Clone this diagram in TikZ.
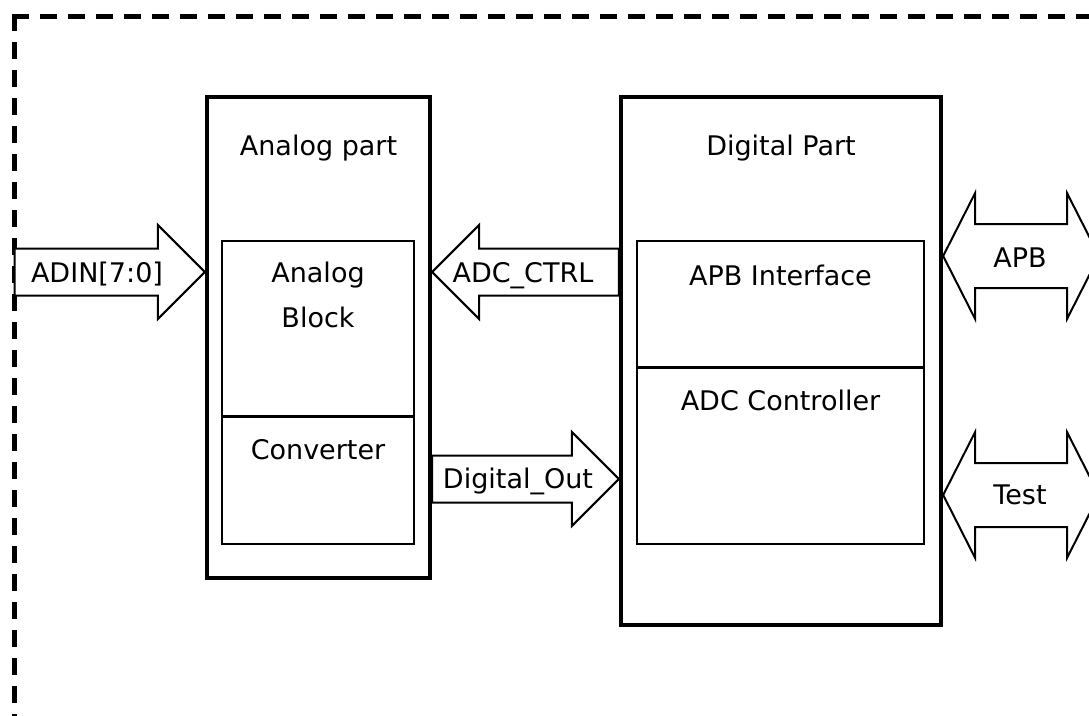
\documentclass[tikz,border=0pt]{standalone}
\usepackage{fontspec}
\setmainfont{DejaVu Sans}
\usetikzlibrary{calc}

\tikzset{
  outerbox/.style={draw, rectangle, line width=4.3pt, inner sep=0pt},
  innerbox/.style={draw, rectangle, line width=1.8pt, inner sep=0pt},
  divider/.style={line width=3pt},
  txt/.style={anchor=base, inner sep=0pt, font=\fontsize{27}{32}\selectfont},
  frame/.style={line width=5pt, dash pattern=on 17pt off 11pt},
  % one-way bus arrow, from tail to tip
  busarrow/.style={draw, fill=white, line width=2pt, line join=miter,
    to path={let \p1=(\tikztostart), \p2=(\tikztotarget), \n1={sign(\x2-\x1)} in
      (\x1,\y1+\sw) -- (\x2-\n1*\hl,\y1+\sw) -- (\x2-\n1*\hl,\y1+\hw) -- (\x2,\y2)
      -- (\x2-\n1*\hl,\y1-\hw) -- (\x2-\n1*\hl,\y1-\sw) -- (\x1,\y1-\sw) -- cycle}},
  % two-way bus arrow, left tip to right tip
  dbusarrow/.style={draw, fill=white, line width=2pt, line join=miter,
    to path={let \p1=(\tikztostart), \p2=(\tikztotarget) in
      (\x1,\y1) -- (\x1+\dhl,\y1+\dhw) -- (\x1+\dhl,\y1+\dsw) -- (\x2-\dhl,\y1+\dsw)
      -- (\x2-\dhl,\y1+\dhw) -- (\x2,\y2) -- (\x2-\dhl,\y1-\dhw) -- (\x2-\dhl,\y1-\dsw)
      -- (\x1+\dhl,\y1-\dsw) -- (\x1+\dhl,\y1-\dhw) -- cycle}}
}

\begin{document}
\begin{tikzpicture}[x=1pt, y=-1pt]
	\def\sw{23.5pt} % half shaft of a bus
	\def\hw{47pt} % half head of a bus
	\def\hl{47pt} % head length
	\def\dsw{32pt}
	\def\dhw{63pt}
	\def\dhl{32pt}
	
	\useasboundingbox (0,0) rectangle (1089,715);
	\clip (0,0) rectangle (1089,715);
	
	% Dashed border
	\draw[frame] (12,16.5) -- (1100,16.5);
	\draw[frame] (14.5,14) -- (14.5,730);
	
	% Analog part
	\node[outerbox, minimum width=223pt, minimum height=481pt] (analog) at (318.5,337.5) {};
	\node[innerbox, minimum width=192pt, minimum height=175pt] (ablock) at (318,328.5) {};
	\node[innerbox, minimum width=192pt, minimum height=128pt] (conv) at (318,480) {};
	\draw[divider] (ablock.south west) -- (ablock.south east);
	
	% Digital part
	\node[outerbox, minimum width=320pt, minimum height=528pt] (digital) at (781,361) {};
	\node[innerbox, minimum width=287pt, minimum height=126pt] (apbif) at (780.5,304) {};
	\node[innerbox, minimum width=287pt, minimum height=177pt] (adcctl) at (780.5,455.5) {};
	\draw[divider] (apbif.south west) -- (apbif.south east);
	
	% Texts
	\node[txt] (analoglbl) at (318.5,155) {Analog part};
	\node[txt] (digitallbl) at (781,155) {Digital Part};
	\node[txt] (ablocklbl) at (318,282) {Analog};
	\node[txt] (ablocklbl2) at (318,327) {Block};
	\node[txt] (convlbl) at (318,459) {Converter};
	\node[txt] (apbiflbl) at (780.5,285) {APB Interface};
	\node[txt] (adcctllbl) at (780.5,410) {ADC Controller};
	
	% Buses
	\coordinate (adin tail) at (14.5,272);
	\coordinate (adin tip) at (analog.west |- adin tail);
	\coordinate (ctrl tail) at (digital.west |- 0,272);
	\coordinate (ctrl tip) at (analog.east |- 0,272);
	\coordinate (dout tail) at (analog.east |- 0,479);
	\coordinate (dout tip) at (digital.west |- 0,479);
	\coordinate (apb left) at (digital.east |- 0,256);
	\coordinate (apb right) at (1099,256);
	\coordinate (test left) at (digital.east |- 0,495);
	\coordinate (test right) at (1099,495);
	
	\draw[busarrow] (adin tail) to (adin tip);
	\draw[busarrow] (ctrl tail) to (ctrl tip);
	\draw[busarrow] (dout tail) to (dout tip);
	\draw[dbusarrow] (apb left) to (apb right);
	\draw[dbusarrow] (test left) to (test right);
	
	\node[txt] (adinlbl) at (97,282) {ADIN[7:0]};
	\node[txt] (ctrllbl) at (523,282) {ADC\_CTRL};
	\node[txt] (doutlbl) at (518,488) {Digital\_Out};
	\node[txt] (apblbl) at (1020,267) {APB};
	\node[txt] (testlbl) at (1020,504) {Test};
	
\end{tikzpicture}
\end{document}
